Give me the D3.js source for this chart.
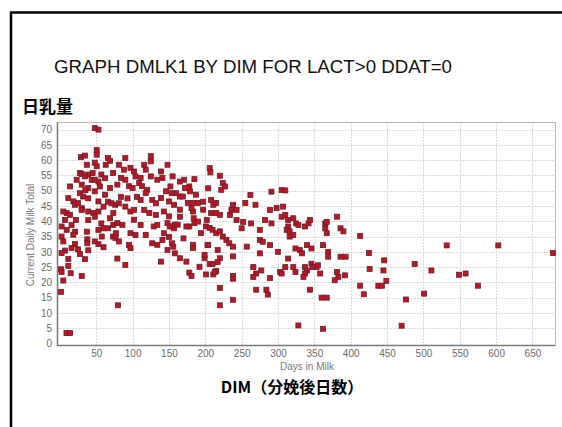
<!DOCTYPE html>
<html>
<head>
<meta charset="utf-8">
<script src="https://cdn.jsdelivr.net/npm/d3@7"></script>
<style>
body { margin: 0; background: #fff; }
</style>
</head>
<body>
<div id="chart"></div>
<script>
// tick values
var xTicks = [50, 100, 150, 200, 250, 300, 350, 400, 450, 500, 550, 600, 650];
var yTicks = [0, 5, 10, 15, 20, 25, 30, 35, 40, 45, 50, 55, 60, 65, 70];

// [days in milk, daily milk], grouped by DIM range
var cowsEarly = [
    [48,70.5],[53,70],
    [50.6,63.3],[50.6,61.8],[29,61],[34.5,61.5],[66,60.7],[69,59.8],[37,58.5],[50.6,58],[48,59.2],[63,58.5],
    [27.7,55.8],[30,55.5],[39,55.3],[45,55.8],[57,55.3],[73,55.8],
    [23,53.6],[34.5,54.7],[43.7,53.6],[48,53.6],[53,53],[62,54.1],
    [14,51.4],[30,52],[27.7,49.2],[39,50.9],[55,51.4],[48,49.8],[62,48.7],[69,50.9],[35,50.2],[32,48.1],
    [11.6,47.6],[18.5,46.5],[20.8,45.4],[25,46],[30,44.3],[53,46.5],[60,44.8],[66,46.4],[76,45.4],[39,47.5],
    [39,43.2],[46,42.7],[9.3,42.7],[14,42.1],[53,43.2],[71,45.9],[73.5,42.7],[4.7,43.2],[30,43.7],
    [7,40.4],[22,40.4],[39,40.4],[48,41.5],[57,39.3],[69,41],
    [2.4,38.3],[9.3,37.2],[16,38.8],[37,36.6],[60,37.7],[66,37.7],[73.5,38.8],[53,37.2],[21,36.6],
    [2.3,35],[4.7,33.4],[18.4,35.6],[37.7,34.1],[37.7,32.8],[48,33.4],[57.6,35],[73,35],[76.5,34.5],
    [20.7,32.6],[16,31.2],[6.9,30.4],[2.3,29.6],[27.5,29.3],[11.6,27.7],[34.4,27.6],[11.6,25.4],
    [1.5,24.3],[2.3,23.4],[14.8,23],[30,22.1],[4.7,20.6],[1.5,16.9],[53,32.5],[60,31.5],[39,30.5],
    [25,30.8],[9,3.4],[14,3.4]
];

var cowsPeak = [
    [90,60.7],[125,61.3],[125,59.6],[148,58.5],[81,58.5],[88,56.9],[97,57.5],[102,56.3],[116,58.5],
    [118,56.9],[139,56.3],[84,54.2],[90,53.6],[104,54.7],[111,54.2],[125,54.7],[134,53.6],[141,54.2],
    [155,54.7],[79,52],[95,51.5],[100,50.9],[109,52.5],[113,51.5],[120,50.3],[146,49.8],[152,51.4],
    [84,48],[81,45.9],[93,47.5],[106,48],[111,47],[118,49.2],[127,47],[132,45.9],[139,47.6],[150,46.5],
    [157,45.4],[90,44.8],[97,43.2],[102,43.7],[116,43.7],[123,42.7],[132,42.1],[143,43.2],[150,41.6],
    [79,39.4],[86,38.8],[102,40.5],[111,38.8],[129,38.3],[134,38.8],[148,39.4],[155,38.3],[77,36.1],
    [97,36.1],[104,35.5],[118,35.5],[143,36.1],[157,37.7],[81,33.4],[95,32.3],[97,31.2],[127,32.8],
    [134,32.3],[141,33.9],[148,30.6],[150,34.9],[79,27.8],[90,25.7],[139,26.8],[80,12.5]
];

var cowsMid = [
    [206,57.4],[207,56],[220,54.9],[224,52.5],[227,51.4],[222,50.3],[171,53.6],[185,53.8],[178,51.4],
    [160,49.2],[165,48.1],[187,48.7],[204,50.8],[208,47],[215,46],[176,46],[183,46],[190,46],[165,43.8],
    [183,43.2],[197,43.8],[208,42.7],[215,42.7],[220,42.1],[234,42.1],[236,43.8],[158,38.9],[162,38.9],
    [178,38.3],[185,39.4],[201,38.3],[206,37.8],[210,37.2],[215,36.1],[220,36.7],[224,35],[229,33.9],
    [233,32.8],[238,31.7],[170,34.4],[194,36.1],[156,31.7],[183,32.3],[183,31.2],[203,32.3],[217,30.6],
    [165,27.9],[174,26.8],[199,27.9],[220,27.9],[238,28.5],[192,25.1],[206,26],[210,26],[217,26.7],
    [201,22.6],[211,22.6],[215,23.7],[178,23.2],[181,22.1],[238,22.1],[220,18.2],[220,12.5],[238,14.3],
    [172,50.9],[179,49.8],[169,48.1],[197,46.4],[211,45.4],[238,45.4],[181,44.3],[202,40.4],[165,41.5],
    [184,41],[190,39.9],[151,38.3],[174,38.3],[154,32.8],[204,32.2],[158,29.5],[199,29],[213,23.4],
    [238,21.2],[154,49.2],[165,53]
];

var cowsLate = [
    [243,43.7],[243,40.4],[262,48.6],[255,46],[269,45.4],[289,43.7],[305,50.2],[291,49.7],[298,44.3],
    [307,44.8],[250,37.7],[252,39.8],[263,39.3],[275,37.2],[282,40.4],[291,39.3],[305,41.5],[314,38.3],
    [257,31.7],[275,33.9],[279,33.3],[275,29.5],[289,32.2],[300,30],[316,35],[266,25],[270,22.9],
    [266,21.8],[277,23.9],[289,21.4],[303,23.4],[305,22.9],[270,17.6],[284,17.6],[286,16],
    [310,50.1],[310,42.1],[314,40.4],[321,41],[325,39.3],[312,37.2],[316,36.7],[321,35.5],[328,38.8],
    [337,38.3],[342,39.3],[344,40.4],[365,39.3],[367,39.8],[365,37.7],[367,36.1],[381,41.5],[386,37.7],
    [390,36.7],[413,35.2],[324,31.1],[330,30.6],[333,29.5],[340,32.2],[346,31.1],[362,32.2],[369,30],
    [369,28.4],[386,28.4],[393,28.4],[425,29.6],[446,27.2],[488,26],[314,27.8],[310,25],[321,25],
    [324,23.4],[337,25],[340,23.9],[346,26.1],[348,25],[353,25],[358,22.9],[337,22.9],[335,21.8],
    [344,17.6],[355,25.6],[381,23.4],[383,21.8],[378,20.7],[392,22.3],[426,24.4],[445,23.9],[413,18.9],
    [418,16.1],[438,18.9],[443,18.9],[449,20.5],[476,14.4],[360,15],[367,15],[328,5.9],[362,4.8],
    [470,5.8],[501,16.3],[511,23.9],[532,32.1],[549,22.5],[558,22.9],[575,18.9],[603,32.1],[678,29.6]
];

var cows = cowsEarly.concat(cowsPeak, cowsMid, cowsLate);

var width = 562;
var height = 427;
var plot = {left: 57, right: 555, top: 122, bottom: 345};

var svg = d3.select('#chart')
    .append('svg')
    .attr('width', width)
    .attr('height', height);

// outer black frame (runs off the right and bottom edges)
svg.append('rect')
    .attr('x', 11)
    .attr('y', 12.5)
    .attr('width', 700)
    .attr('height', 600)
    .attr('fill', 'none')
    .attr('stroke', '#000')
    .attr('stroke-width', 2.5);

svg.append('text')
    .attr('x', 54)
    .attr('y', 73)
    .attr('textLength', 398)
    .attr('lengthAdjust', 'spacingAndGlyphs')
    .style('font-family', '"Liberation Sans", Arial, sans-serif')
    .style('font-size', '17.5px')
    .attr('fill', '#111')
    .text('GRAPH DMLK1 BY DIM FOR LACT>0 DDAT=0');

svg.append('text')
    .attr('x', 22)
    .attr('y', 113)
    .style('font-family', '"Noto Sans CJK JP", sans-serif')
    .style('font-weight', 'bold')
    .style('font-size', '17px')
    .attr('fill', '#000')
    .text('日乳量');

var xScale = d3.scaleLinear()
    .domain([-4, 681])
    .range([plot.left, plot.right]);

var yScale = d3.scaleLinear()
    .domain([-0.5, 72.5])
    .range([plot.bottom, plot.top]);

// grid
var grid = svg.append('g')
    .attr('stroke', '#dadada')
    .attr('stroke-width', 1)
    .attr('stroke-dasharray', '2,1');

grid.selectAll('line.v')
    .data(xTicks)
    .enter()
    .append('line')
    .attr('class', 'v')
    .attr('x1', d => Math.round(xScale(d)) + 0.5)
    .attr('x2', d => Math.round(xScale(d)) + 0.5)
    .attr('y1', plot.top)
    .attr('y2', plot.bottom);

grid.selectAll('line.h')
    .data(yTicks.filter(d => d > 0))
    .enter()
    .append('line')
    .attr('class', 'h')
    .attr('x1', plot.left)
    .attr('x2', plot.right)
    .attr('y1', d => Math.round(yScale(d)) + 0.5)
    .attr('y2', d => Math.round(yScale(d)) + 0.5);

// plot border
svg.append('rect')
    .attr('x', plot.left + 0.5)
    .attr('y', plot.top + 0.5)
    .attr('width', plot.right - plot.left)
    .attr('height', plot.bottom - plot.top)
    .attr('fill', 'none')
    .attr('stroke', '#b8b8b8');

svg.append('path')
    .attr('d', 'M' + (plot.left + 0.5) + ',' + plot.top + 'V' + (plot.bottom + 0.5) + 'H' + plot.right)
    .attr('fill', 'none')
    .attr('stroke', '#7a7a7a')
    .attr('stroke-width', 1.5);

// axes
var xAxis = svg.append('g')
    .attr('transform', 'translate(0,' + plot.bottom + ')')
    .call(d3.axisBottom(xScale).tickValues(xTicks).tickSize(0).tickPadding(5));

var yAxis = svg.append('g')
    .attr('transform', 'translate(' + plot.left + ',0)')
    .call(d3.axisLeft(yScale).tickValues(yTicks).tickSize(0).tickPadding(5));

[xAxis, yAxis].forEach(function(ax) {
    ax.select('.domain').remove();
    ax.selectAll('text')
        .style('font-family', '"Liberation Sans", Arial, sans-serif')
        .style('font-size', '10px')
        .attr('fill', '#6a6a6a');
});

svg.append('text')
    .attr('transform', 'translate(34,235) rotate(-90)')
    .attr('text-anchor', 'middle')
    .style('font-family', '"Liberation Sans", Arial, sans-serif')
    .style('font-size', '10px')
    .attr('fill', '#777')
    .text('Current Daily Milk Total');

svg.append('text')
    .attr('x', 307)
    .attr('y', 370)
    .attr('text-anchor', 'middle')
    .style('font-family', '"Liberation Sans", Arial, sans-serif')
    .style('font-size', '10px')
    .attr('fill', '#777')
    .text('Days in Milk');

svg.append('text')
    .attr('x', 292)
    .attr('y', 393)
    .attr('text-anchor', 'middle')
    .style('font-family', '"Noto Sans CJK JP", sans-serif')
    .style('font-weight', 'bold')
    .style('font-size', '16px')
    .attr('fill', '#000')
    .text('DIM（分娩後日数）');

// points
var size = 5;
svg.append('g')
    .selectAll('rect')
    .data(cows)
    .enter()
    .append('rect')
    .attr('x', d => xScale(d[0]) - size / 2)
    .attr('y', d => yScale(d[1]) - size / 2)
    .attr('width', size)
    .attr('height', size)
    .attr('fill', '#c4121f')
    .attr('stroke', '#5a2632')
    .attr('stroke-width', 0.8);
</script>
</body>
</html>
